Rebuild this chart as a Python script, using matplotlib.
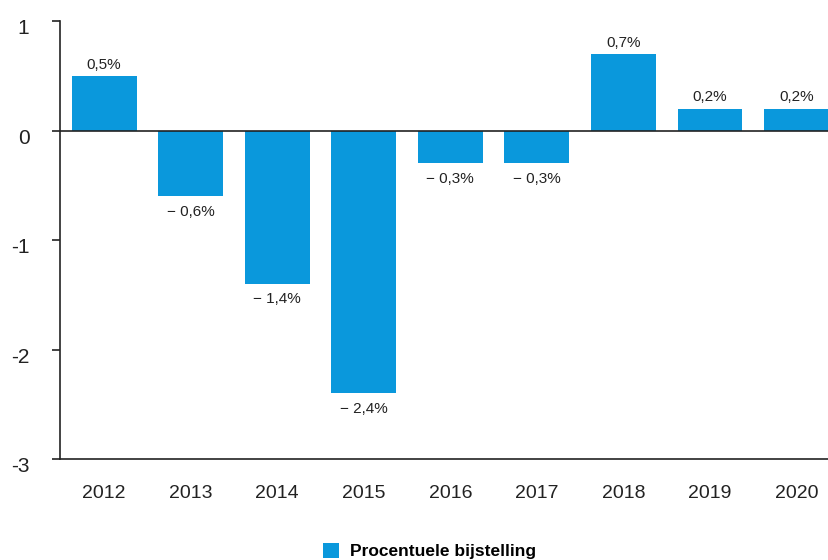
import matplotlib.pyplot as plt
import matplotlib.transforms as mtransforms
from matplotlib.patches import Patch

jaren = ['2012', '2013', '2014', '2015', '2016', '2017', '2018', '2019', '2020']
bijstelling = [0.5, -0.6, -1.4, -2.4, -0.3, -0.3, 0.7, 0.2, 0.2]
labels = ['0,5%', '\u2212 0,6%', '\u2212 1,4%', '\u2212 2,4%', '\u2212 0,3%',
          '\u2212 0,3%', '0,7%', '0,2%', '0,2%']
yticks = [1, 0, -1, -2, -3]
kleur = '#0a98dc'

plt.rcParams['font.family'] = ['Liberation Sans', 'DejaVu Sans']

fig = plt.figure(figsize=(8.29, 5.6), dpi=100)
ax = fig.add_axes([60 / 829, 101 / 560, 1 - 60 / 829, 438 / 560])

x = list(range(len(jaren)))
bars = ax.bar(x, bijstelling, width=0.75, color=kleur, zorder=2)
ax.axhline(0, color='#222222', lw=1.2, zorder=3)

for xi, v, t in zip(x, bijstelling, labels):
    if v >= 0:
        ax.annotate(t, (xi, v), xytext=(0, 3), textcoords='offset points',
                    ha='center', va='bottom', fontsize=11, color='#222222')
    else:
        ax.annotate(t, (xi, v), xytext=(0, -6), textcoords='offset points',
                    ha='center', va='top', fontsize=11, color='#222222')

ax.set_xlim(-0.51, 8.375)
ax.set_ylim(-3, 1)
ax.set_yticks(yticks)
ax.set_yticklabels([str(t) for t in yticks])
ax.set_xticks(x)
ax.set_xticklabels(jaren)

for s in ['top', 'right']:
    ax.spines[s].set_visible(False)
ax.spines['left'].set_color('#222222')
ax.spines['bottom'].set_color('#222222')
ax.spines['left'].set_linewidth(1.2)
ax.spines['bottom'].set_linewidth(1.2)

ax.tick_params(axis='y', length=6, width=1.2, pad=16, labelsize=15, colors='#222222')
ax.tick_params(axis='x', length=0, pad=19, labelsize=14, colors='#222222')

# y-labels sit a little below their ticks in the original
shift = mtransforms.ScaledTranslation(0, -4 / 72, fig.dpi_scale_trans)
for lab in ax.get_yticklabels():
    lab.set_transform(lab.get_transform() + shift)

handle = Patch(facecolor=kleur, edgecolor='none')
fig.legend([handle], ['Procentuele bijstelling'], loc='upper left',
           bbox_to_anchor=(314 / 829, 26 / 560), frameon=False, borderpad=0,
           handlelength=0.95, handleheight=0.95, handletextpad=0.6,
           prop={'weight': 'bold', 'size': 12.5})

fig.savefig('out.png', dpi=100)
